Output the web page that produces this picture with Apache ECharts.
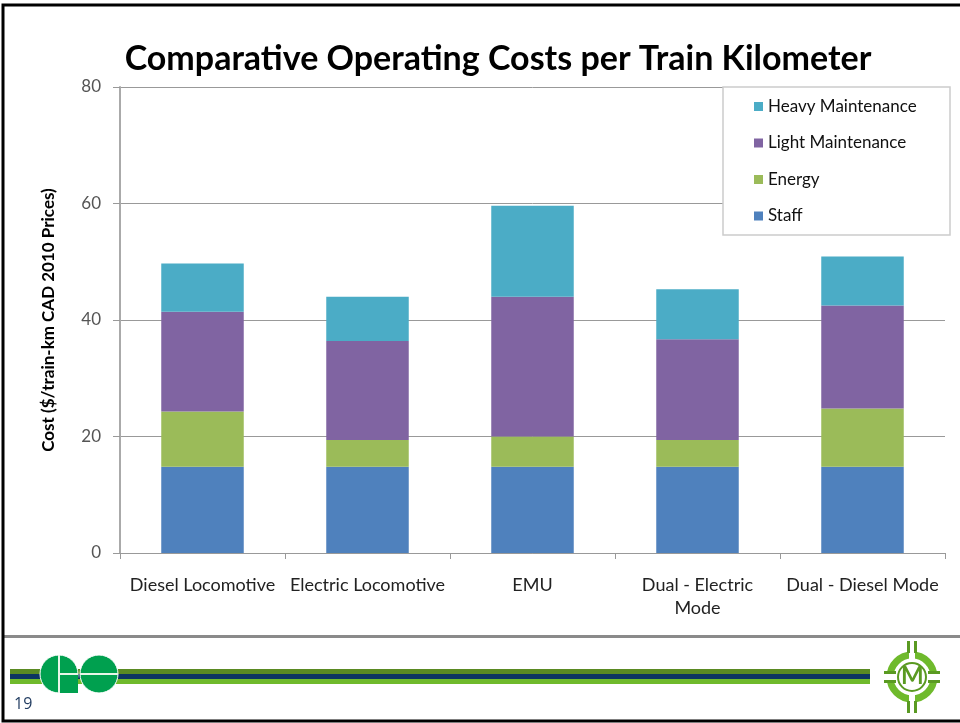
<!DOCTYPE html>
<html>
<head>
<meta charset="utf-8">
<script src="https://cdn.jsdelivr.net/npm/echarts@6/dist/echarts.min.js"></script>
<style>
  html, body { margin: 0; padding: 0; background: #fff; }
  #chart { width: 960px; height: 723px; }
</style>
</head>
<body>
<div id="chart"></div>
<script>
// categories and stacked segment values
const categories = ['Diesel Locomotive', 'Electric Locomotive', 'EMU', 'Dual - Electric\nMode', 'Dual - Diesel Mode']
const staff = [14.8, 14.8, 14.8, 14.8, 14.8]
const energy = [9.5, 4.6, 5.2, 4.6, 10.0]
const lightMaint = [17.1, 17.0, 24.0, 17.3, 17.7]
const heavyMaint = [8.3, 7.6, 15.6, 8.6, 8.4]
const yTicks = [0, 20, 40, 60, 80]

const font = 'Lato, "Liberation Sans", sans-serif'
const colors = { staff: '#4F81BD', energy: '#9BBB59', light: '#8064A2', heavy: '#4BACC6' }

const myChart = echarts.init(document.getElementById('chart'))

const mkSeries = (name, data, color) => ({
    name: name,
    type: 'bar',
    stack: 'cost',
    barWidth: '50%',
    data: data,
    itemStyle: { color: color },
    emphasis: { disabled: true }
})

let option = {
    backgroundColor: '#fff',
    animation: false,
    title: {
        text: 'Comparative Operating Costs per Train Kilometer',
        left: 493,
        top: 37,
        textAlign: 'center',
        textStyle: { fontFamily: font, fontSize: 34, fontWeight: 'bold', color: '#000' }
    },
    legend: {
        orient: 'vertical',
        left: 749,
        top: 93,
        itemWidth: 9,
        itemHeight: 9,
        itemGap: 19.5,
        icon: 'rect',
        data: ['Heavy Maintenance', 'Light Maintenance', 'Energy', 'Staff'],
        textStyle: { fontFamily: font, fontSize: 17, color: '#111' }
    },
    grid: { left: 120, right: 15, top: 87, bottom: 170 },
    xAxis: {
        type: 'category',
        data: categories,
        axisLine: { lineStyle: { color: '#999', width: 1 } },
        axisTick: { show: true, length: 6, lineStyle: { color: '#999' } },
        axisLabel: {
            fontFamily: font, fontSize: 18, color: '#222', margin: 21, lineHeight: 23, interval: 0
        }
    },
    yAxis: {
        type: 'value',
        min: yTicks[0],
        max: yTicks[yTicks.length - 1],
        interval: 20,
        name: 'Cost ($/train-km CAD 2010 Prices)',
        nameLocation: 'middle',
        nameGap: 63,
        nameTextStyle: { fontFamily: font, fontSize: 17, fontWeight: 'bold', color: '#000' },
        axisLine: { show: true, lineStyle: { color: '#aaa', width: 2 } },
        axisTick: { show: true, length: 7, lineStyle: { color: '#999' } },
        axisLabel: { fontFamily: font, fontSize: 17, color: '#555', margin: 19 },
        splitLine: { lineStyle: { color: '#999', width: 1 } }
    },
    graphic: [
        // slide frame
        { type: 'rect', shape: { x: 3, y: 5, width: 962, height: 716 }, style: { fill: 'none', stroke: '#000', lineWidth: 3 }, z: 100 },
        // legend box
        { type: 'rect', shape: { x: 723, y: 87, width: 227, height: 148 }, style: { fill: '#fff', stroke: '#ccc', lineWidth: 1.5 }, z: 1 },
        // chart bottom rule
        { type: 'rect', shape: { x: 4, y: 635, width: 960, height: 3 }, style: { fill: '#8a8a8a' } },
        // footer stripes
        { type: 'rect', shape: { x: 10, y: 669, width: 860, height: 5 }, style: { fill: '#5a8a22' } },
        { type: 'rect', shape: { x: 10, y: 674, width: 860, height: 5 }, style: { fill: '#0d3560' } },
        { type: 'rect', shape: { x: 10, y: 679, width: 860, height: 5 }, style: { fill: '#6fba2c' } },
        // GO logo
        { type: 'circle', shape: { cx: 59, cy: 674, r: 19 }, style: { fill: '#00a04f', stroke: '#fff', lineWidth: 1 } },
        { type: 'rect', shape: { x: 59, y: 674, width: 19, height: 19 }, style: { fill: '#00a04f' } },
        { type: 'circle', shape: { cx: 99, cy: 674, r: 19 }, style: { fill: '#00a04f', stroke: '#fff', lineWidth: 1 } },
        { type: 'rect', shape: { x: 58, y: 655, width: 2, height: 38 }, style: { fill: '#e8f5e8' } },
        { type: 'rect', shape: { x: 60, y: 673, width: 18, height: 2 }, style: { fill: '#e8f5e8' } },
        { type: 'rect', shape: { x: 80, y: 673, width: 38, height: 2 }, style: { fill: '#e8f5e8' } },
        // M logo
        { type: 'circle', shape: { cx: 912, cy: 677, r: 22 }, style: { fill: 'none', stroke: '#6fba2c', lineWidth: 7 } },
        { type: 'rect', shape: { x: 909, y: 645, width: 6, height: 64 }, style: { fill: '#fff' } },
        { type: 'rect', shape: { x: 880, y: 674, width: 64, height: 6 }, style: { fill: '#fff' } },
        { type: 'rect', shape: { x: 907, y: 641, width: 3, height: 12 }, style: { fill: '#5a9a22' } },
        { type: 'rect', shape: { x: 914, y: 641, width: 3, height: 12 }, style: { fill: '#5a9a22' } },
        { type: 'rect', shape: { x: 907, y: 701, width: 3, height: 12 }, style: { fill: '#5a9a22' } },
        { type: 'rect', shape: { x: 914, y: 701, width: 3, height: 12 }, style: { fill: '#5a9a22' } },
        { type: 'rect', shape: { x: 884, y: 671, width: 12, height: 3 }, style: { fill: '#5a9a22' } },
        { type: 'rect', shape: { x: 884, y: 680, width: 12, height: 3 }, style: { fill: '#5a9a22' } },
        { type: 'rect', shape: { x: 928, y: 671, width: 12, height: 3 }, style: { fill: '#5a9a22' } },
        { type: 'rect', shape: { x: 928, y: 680, width: 12, height: 3 }, style: { fill: '#5a9a22' } },
        { type: 'circle', shape: { cx: 912, cy: 677, r: 14 }, style: { fill: '#fff', stroke: '#5a9a22', lineWidth: 2 } },
        { type: 'text', left: 901, top: 664, style: { text: 'M', fontFamily: font, fontSize: 24, fontWeight: 'bold', fill: '#5a9a22' } },
        // slide number
        { type: 'text', left: 14, top: 696, style: { text: '19', fontFamily: '"Open Sans", sans-serif', fontSize: 16, fill: '#1f3a5f' } }
    ],
    series: [
        mkSeries('Staff', staff, colors.staff),
        mkSeries('Energy', energy, colors.energy),
        mkSeries('Light Maintenance', lightMaint, colors.light),
        mkSeries('Heavy Maintenance', heavyMaint, colors.heavy)
    ]
}

myChart.setOption(option)
</script>
</body>
</html>
